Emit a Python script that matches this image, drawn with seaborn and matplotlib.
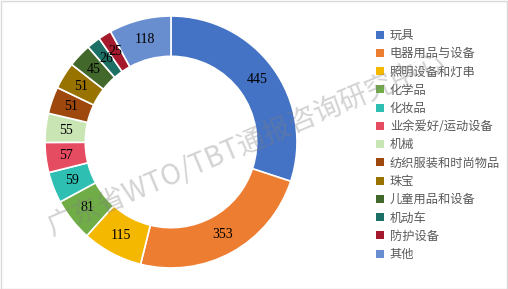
import matplotlib
matplotlib.use("Agg")
import matplotlib.pyplot as plt
import seaborn as sns
import numpy as np
from matplotlib.patches import Rectangle, Patch

categories = ["玩具", "电器用品与设备", "照明设备和灯串", "化学品", "化妆品",
              "业余爱好/运动设备", "机械", "纺织服装和时尚物品", "珠宝",
              "儿童用品和设备", "机动车", "防护设备", "其他"]
values = [445, 353, 115, 81, 59, 57, 55, 51, 51, 45, 26, 25, 118]
colors = ["#4472C4", "#ED7D31", "#F5B800", "#70AD47", "#2EBFB2", "#E64C61",
          "#C9E5B4", "#9E480E", "#997300", "#43682B", "#1B6F65", "#A5192C",
          "#698ED0"]
watermark = "广东省WTO/TBT通报咨询研究中心"

sns.set_theme(style="white")
plt.rcParams['font.family'] = ['Noto Sans CJK SC', 'DejaVu Sans']
palette = sns.color_palette(colors)

W, H = 508, 289
fig = plt.figure(figsize=(W / 100, H / 100), dpi=100)
fig.patch.set_facecolor("white")

cx, cy, R = 171, 142, 126
ax = fig.add_axes([(cx - R) / W, (H - cy - R) / H, 2 * R / W, 2 * R / H])
wedges, _ = ax.pie(values, colors=palette, startangle=90, counterclock=False,
                   radius=1.0,
                   wedgeprops=dict(width=0.32, edgecolor="white", linewidth=1.2))
total = sum(values)
ang0 = 90.0
for v in values:
    span = v / total * 360
    mid = np.deg2rad(ang0 - span / 2)
    r = 0.84
    ax.text(r * np.cos(mid), r * np.sin(mid), str(v), ha="center", va="center",
            fontsize=10, family="Liberation Serif", color="black")
    ang0 -= span
ax.set_xlim(-1, 1)
ax.set_ylim(-1, 1)
ax.set_aspect("equal")
ax.axis("off")

handles = [Patch(facecolor=c, edgecolor="none") for c in palette]
leg = fig.legend(handles, categories, loc="upper left",
                 bbox_to_anchor=(371 / W, 1 - 24 / H), frameon=False,
                 fontsize=8.8, handlelength=0.65, handleheight=0.65,
                 handletextpad=0.5, labelspacing=0.43, borderaxespad=0)
for t in leg.get_texts():
    t.set_color("#595959")

fig.text(246 / W, 1 - 144 / H, watermark, rotation=23, ha="center", va="center",
         fontsize=20, color="#808080", alpha=0.35,
         family=['Noto Sans CJK SC', 'DejaVu Sans'], zorder=10)

fig.patches.append(Rectangle((0.5 / W, 0.5 / H), 1 - 1.5 / W, 1 - 1.5 / H,
                             transform=fig.transFigure, fill=False,
                             edgecolor="#D9D9D9", linewidth=1.0))

fig.savefig("out.png", dpi=100)
